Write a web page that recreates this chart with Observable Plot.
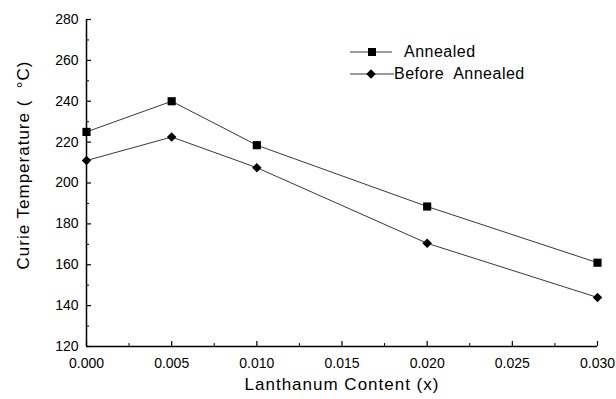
<!DOCTYPE html>
<html>
<head>
<meta charset="utf-8">
<script src="https://cdn.jsdelivr.net/npm/d3@7"></script>
<script src="https://cdn.jsdelivr.net/npm/@observablehq/plot@0.6"></script>
<style>
  html, body { margin: 0; padding: 0; background: #fff; }
  #wrap { position: relative; width: 616px; height: 399px; font-family: "Liberation Sans", Arial, sans-serif; }
  #legend { position: absolute; left: 346px; top: 41px; font-size: 16px; color: #000; letter-spacing: 0.5px; }
  .row { display: flex; align-items: center; height: 22px; }
</style>
</head>
<body>
<div id="wrap"></div>
<script>
const content = [0.000, 0.005, 0.010, 0.020, 0.030];
const annealed = [225, 240, 218.5, 188.5, 161];
const beforeAnnealed = [211, 222.5, 207.5, 170.5, 144];
const seriesNames = ["Annealed", "Before  Annealed"];
const xTicks = [0.000, 0.005, 0.010, 0.015, 0.020, 0.025, 0.030];
const xMinorTicks = [0.0025, 0.0075, 0.0125, 0.0175, 0.0225, 0.0275];
const yTicks = [120, 140, 160, 180, 200, 220, 240, 260, 280];
const yMinorTicks = [130, 150, 170, 190, 210, 230, 250, 270];
const xLabel = "Lanthanum Content (x)";
const yLabel = "Curie Temperature (  \u00B0C)";

const data = [
  ...content.map((x, i) => ({x, y: annealed[i], s: seriesNames[0]})),
  ...content.map((x, i) => ({x, y: beforeAnnealed[i], s: seriesNames[1]}))
];
const fmt = d3.format(".3f");

const chart = Plot.plot({
  width: 616,
  height: 399,
  marginLeft: 86,
  marginRight: 19,
  marginTop: 19,
  marginBottom: 53,
  style: {fontFamily: "'Liberation Sans', Arial, sans-serif", fontSize: "14px", color: "#000", background: "#fff"},
  x: {domain: [xTicks[0], xTicks[xTicks.length - 1]]},
  y: {domain: [yTicks[0], yTicks[yTicks.length - 1]]},
  marks: [
    Plot.axisX({ticks: xTicks, tickSize: -5, tickPadding: 17, tickFormat: fmt, label: null, fontSize: 14, strokeWidth: 1.2}),
    Plot.axisX({ticks: xMinorTicks, tickSize: -3, tickFormat: () => "", label: null, strokeWidth: 1}),
    Plot.axisY({ticks: yTicks, tickSize: -5, tickPadding: 13, label: null, fontSize: 14, strokeWidth: 1.2}),
    Plot.axisY({ticks: yMinorTicks, tickSize: -3, tickFormat: () => "", label: null, strokeWidth: 1}),
    Plot.ruleX([xTicks[0]], {stroke: "#000", strokeWidth: 1.5}),
    Plot.ruleY([yTicks[0]], {stroke: "#000", strokeWidth: 1.5}),
    Plot.line(data, {x: "x", y: "y", z: "s", stroke: "#222", strokeWidth: 0.9}),
    Plot.dot(data.filter(d => d.s === seriesNames[0]), {x: "x", y: "y", symbol: () => "square", r: 4.6, fill: "#000", stroke: "none"}),
    Plot.dot(data.filter(d => d.s === seriesNames[1]), {x: "x", y: "y", symbol: () => "diamond2", r: 4.3, fill: "#000", stroke: "none"}),
    Plot.text([xLabel], {frameAnchor: "bottom", dy: 38, fontSize: 17, fill: "#000", lineAnchor: "middle", textAnchor: "middle"}),
    Plot.text([yLabel], {frameAnchor: "left", rotate: -90, dx: -63, dy: -18, fontSize: 17, fill: "#000", textAnchor: "middle", lineAnchor: "middle"})
  ]
});
chart.querySelectorAll("text").forEach(t => {
  if (t.textContent === xLabel || t.textContent === yLabel) t.setAttribute("letter-spacing", "1");
});
const wrap = document.getElementById("wrap");
wrap.appendChild(chart);

// legend
const legend = document.createElement("div");
legend.id = "legend";
seriesNames.forEach((name, i) => {
  const row = document.createElement("div");
  row.className = "row";
  const w = i === 0 ? 58 : 48;
  const sym = i === 0
    ? `<rect x="22" y="7" width="8" height="8" fill="#000"/>`
    : `<path d="M25,6.3L29.7,11L25,15.7L20.3,11Z" fill="#000"/>`;
  row.innerHTML = `<svg width="${w}" height="22" style="display:block"><line x1="4" x2="${i === 0 ? 46 : 48}" y1="11" y2="11" stroke="#222" stroke-width="0.9"/>${sym}</svg><span>${name.replace("  ", "\u00A0 ")}</span>`;
  legend.appendChild(row);
});
wrap.appendChild(legend);
</script>
</body>
</html>
